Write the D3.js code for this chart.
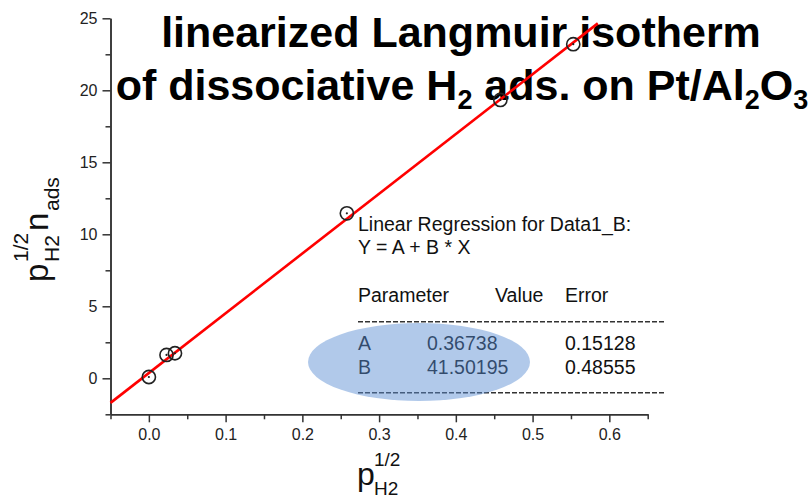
<!DOCTYPE html>
<html>
<head>
<meta charset="utf-8">
<script src="https://cdn.jsdelivr.net/npm/d3@7"></script>
<style>
  html, body { margin: 0; padding: 0; background: #fff; }
  svg { display: block; font-family: "Liberation Sans", Arial, sans-serif; }
</style>
</head>
<body>
<svg id="chart" width="812" height="499"></svg>
<script>
// Measured points: sqrt(p_H2) vs sqrt(p_H2) * n_ads
const pointX = [0, 0.023, 0.034, 0.258, 0.458, 0.553];
const pointY = [0.09, 1.62, 1.74, 11.46, 19.33, 23.2];

// Fit results Y = A + B * X
const paramNames = ["A", "B"];
const paramValues = ["0.36738", "41.50195"];
const paramErrors = ["0.15128", "0.48555"];

// Axis ticks
const xMajorTicks = [0, 0.1, 0.2, 0.3, 0.4, 0.5, 0.6];
const xMinorTicks = [-0.05, 0.05, 0.15, 0.25, 0.35, 0.45, 0.55, 0.65];
const yMajorTicks = [0, 5, 10, 15, 20, 25];
const yMinorTicks = [-2.5, 2.5, 7.5, 12.5, 17.5, 22.5];

const svg = d3.select("#chart");

const x = d3.scaleLinear().domain([-0.05, 0.65]).range([110.5, 647.7]);
const y = d3.scaleLinear().domain([-2.5, 25]).range([414.3, 18.3]);

// Title
const title = svg.append("g")
  .attr("font-weight", "bold")
  .attr("font-size", 43)
  .attr("fill", "#000")
  .attr("text-anchor", "middle");

title.append("text")
  .attr("x", 461).attr("y", 47)
  .text("linearized Langmuir isotherm");

const t2 = title.append("text").attr("x", 462).attr("y", 100);
t2.append("tspan").text("of dissociative H");
t2.append("tspan").attr("font-size", 27).attr("dy", 9).text("2");
t2.append("tspan").attr("dy", -9).text(" ads. on Pt/Al");
t2.append("tspan").attr("font-size", 27).attr("dy", 9).text("2");
t2.append("tspan").attr("dy", -9).text("O");
t2.append("tspan").attr("font-size", 27).attr("dy", 9).text("3");

// Axes
function styleAxis(g) {
  g.selectAll("path.domain").attr("stroke", "#333").attr("stroke-width", 1.5);
  g.selectAll(".tick line").attr("stroke", "#333").attr("stroke-width", 1.5);
  g.selectAll(".tick text")
    .attr("fill", "#222")
    .attr("font-size", 16)
    .attr("font-family", "'Liberation Sans', Arial, sans-serif");
}

const xAxisG = svg.append("g").attr("transform", `translate(0,${y(-2.5)})`);
xAxisG.call(d3.axisBottom(x).tickValues(xMajorTicks).tickFormat(d3.format(".1f"))
  .tickSize(8).tickPadding(6).tickSizeOuter(0));
styleAxis(xAxisG);
const xMinorG = svg.append("g").attr("transform", `translate(0,${y(-2.5)})`);
xMinorG.call(d3.axisBottom(x).tickValues(xMinorTicks).tickFormat("").tickSize(5).tickSizeOuter(0));
styleAxis(xMinorG);

const yAxisG = svg.append("g").attr("transform", `translate(${x(-0.05)},0)`);
yAxisG.call(d3.axisLeft(y).tickValues(yMajorTicks).tickFormat(d3.format("d"))
  .tickSize(8).tickPadding(5).tickSizeOuter(0));
styleAxis(yAxisG);
const yMinorG = svg.append("g").attr("transform", `translate(${x(-0.05)},0)`);
yMinorG.call(d3.axisLeft(y).tickValues(yMinorTicks).tickFormat("").tickSize(5).tickSizeOuter(0));
styleAxis(yMinorG);

// Axis titles
const xt = svg.append("text")
  .attr("x", 357).attr("y", 485)
  .attr("fill", "#111");
xt.append("tspan").attr("font-size", 32).text("p");
xt.append("tspan").attr("font-size", 19).attr("x", 374).attr("y", 466).text("1/2");
xt.append("tspan").attr("font-size", 19).attr("x", 374).attr("y", 495).text("H2");

const yt = svg.append("g").attr("transform", "translate(48,282) rotate(-90)")
  .append("text").attr("x", 0).attr("y", 0).attr("fill", "#111");
yt.append("tspan").attr("font-size", 33).text("p");
yt.append("tspan").attr("font-size", 21).attr("x", 20).attr("y", -20).text("1/2");
yt.append("tspan").attr("font-size", 21).attr("x", 20).attr("y", 11).text("H2");
yt.append("tspan").attr("font-size", 33).attr("x", 51).attr("y", 0).text("n");
yt.append("tspan").attr("font-size", 21).attr("x", 71).attr("y", 11).text("ads");

// Regression line drawn from the fitted parameters
const A = parseFloat(paramValues[0]);
const B = parseFloat(paramValues[1]);
const xEnd = 0.585;
const fitLine = d3.line().x(d => x(d)).y(d => y(A + B * d));
svg.append("path")
  .datum([x.domain()[0], xEnd])
  .attr("d", fitLine)
  .attr("stroke", "#ff0000")
  .attr("stroke-width", 2.6)
  .attr("fill", "none");

// Data points: open circles with a centre dot
const pts = svg.append("g").selectAll("g")
  .data(pointX.map((v, i) => [v, pointY[i]]))
  .join("g")
  .attr("transform", d => `translate(${x(d[0])},${y(d[1])})`);
pts.append("circle").attr("r", 6.6).attr("fill", "none")
  .attr("stroke", "#222").attr("stroke-width", 1.6);
pts.append("circle").attr("r", 1.1).attr("fill", "#222");

// Fit report
const rep = svg.append("g")
  .attr("font-size", 19.5)
  .attr("fill", "#111");
rep.append("text").attr("x", 358).attr("y", 231).text("Linear Regression for Data1_B:");
rep.append("text").attr("x", 358).attr("y", 254).text("Y = A + B * X");
rep.append("text").attr("x", 358).attr("y", 302).text("Parameter");
rep.append("text").attr("x", 495).attr("y", 302).text("Value");
rep.append("text").attr("x", 565).attr("y", 302).text("Error");

const rowY = [350, 373.5];
paramNames.forEach((n, i) => {
  rep.append("text").attr("x", 358).attr("y", rowY[i]).text(n);
  rep.append("text").attr("x", 427).attr("y", rowY[i]).text(paramValues[i]);
  rep.append("text").attr("x", 565).attr("y", rowY[i]).text(paramErrors[i]);
});

[321.7, 392.7].forEach(yy => {
  svg.append("line")
    .attr("x1", 358).attr("x2", 665).attr("y1", yy).attr("y2", yy)
    .attr("stroke", "#333").attr("stroke-width", 1.6)
    .attr("stroke-dasharray", "5,2");
});

// Highlight over the fitted values
svg.append("ellipse")
  .attr("cx", 419).attr("cy", 362).attr("rx", 111).attr("ry", 39)
  .attr("fill", "rgb(90,140,210)")
  .attr("fill-opacity", 0.47);
</script>
</body>
</html>
